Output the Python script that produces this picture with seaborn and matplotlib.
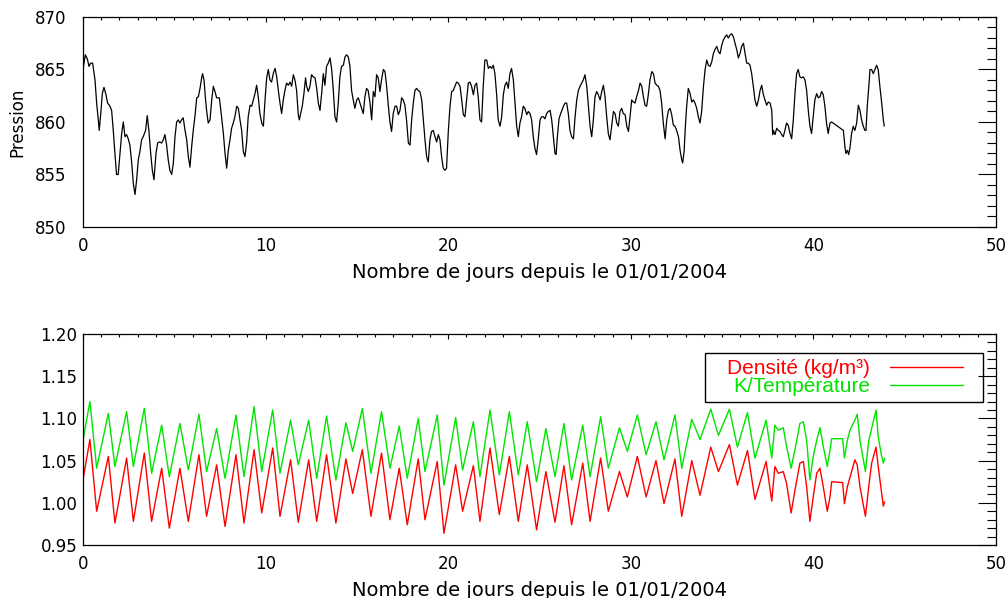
import numpy as np
import pandas as pd
import matplotlib
matplotlib.use("Agg")
import matplotlib.pyplot as plt
from matplotlib.ticker import MultipleLocator, FormatStrFormatter
from matplotlib.patches import Rectangle
import seaborn as sns

# ---- pressure (top panel) ----
press_days = [
    0.00, 0.13, 0.24, 0.33, 0.42, 0.53, 0.57, 0.66, 0.75, 0.84, 0.89, 0.99, 1.06, 1.15, 1.26, 1.35, 1.48, 1.57,
    1.66, 1.75, 1.84, 1.93, 2.03, 2.12, 2.21, 2.30, 2.39, 2.48, 2.57, 2.67, 2.76, 2.85, 2.94, 3.03, 3.12, 3.21,
    3.30, 3.43, 3.52, 3.61, 3.71, 3.80, 3.89, 4.00, 4.09, 4.18, 4.31, 4.40, 4.49, 4.58, 4.67, 4.76, 4.86, 4.95,
    5.04, 5.13, 5.22, 5.31, 5.40, 5.49, 5.59, 5.68, 5.77, 5.86, 5.95, 6.04, 6.13, 6.23, 6.32, 6.41, 6.50, 6.55,
    6.63, 6.70, 6.77, 6.86, 6.96, 7.05, 7.14, 7.23, 7.32, 7.47, 7.59, 7.69, 7.78, 7.87, 7.96, 8.05, 8.14, 8.23,
    8.32, 8.42, 8.51, 8.60, 8.69, 8.78, 8.87, 8.96, 9.05, 9.15, 9.24, 9.33, 9.42, 9.51, 9.60, 9.69, 9.79, 9.88,
    9.97, 10.06, 10.15, 10.24, 10.33, 10.42, 10.52, 10.61, 10.70, 10.79, 10.88, 10.97, 11.06, 11.15, 11.25,
    11.34, 11.43, 11.52, 11.61, 11.70, 11.79, 11.85, 11.92, 12.01, 12.10, 12.19, 12.25, 12.34, 12.43, 12.52,
    12.61, 12.71, 12.80, 12.89,
    12.98, 13.07, 13.16, 13.25, 13.34, 13.43, 13.53, 13.62, 13.71, 13.80, 13.89, 13.98, 14.07, 14.16, 14.26,
    14.35, 14.44, 14.53, 14.62, 14.71, 14.80, 14.89, 14.99, 15.08, 15.17, 15.26, 15.35, 15.44, 15.53, 15.62,
    15.72, 15.81, 15.90, 15.99, 16.08, 16.17, 16.26, 16.35, 16.45, 16.54, 16.63, 16.72, 16.81, 16.90, 16.99,
    17.09, 17.18, 17.27, 17.36, 17.45, 17.54, 17.63, 17.72, 17.82, 17.91, 18.00, 18.09, 18.18, 18.27, 18.36,
    18.45, 18.55, 18.64, 18.73, 18.82, 18.91, 19.00, 19.09, 19.18, 19.28, 19.37, 19.46, 19.55, 19.64, 19.73,
    19.82, 19.91, 20.01, 20.10, 20.19, 20.28, 20.37, 20.46, 20.55, 20.65, 20.74, 20.83, 20.92, 21.01, 21.10,
    21.19, 21.28, 21.38, 21.47, 21.56, 21.65, 21.74, 21.83, 21.92, 22.01, 22.11, 22.20, 22.29, 22.38, 22.47,
    22.56, 22.65, 22.74, 22.84, 22.93, 23.02, 23.11, 23.20, 23.29, 23.38, 23.47, 23.57, 23.66, 23.75, 23.84,
    23.93, 24.02, 24.11, 24.20, 24.30, 24.39, 24.48, 24.57, 24.66, 24.75, 24.84, 24.93, 25.03, 25.12, 25.21,
    25.30, 25.39, 25.48,
    25.58, 25.67, 25.76, 25.85, 25.91, 25.98, 26.07, 26.16, 26.23, 26.31, 26.40, 26.49, 26.58, 26.67, 26.76,
    26.86, 26.95, 27.04, 27.13, 27.22, 27.31, 27.40, 27.49, 27.59, 27.68, 27.77, 27.86, 27.95, 28.04, 28.13,
    28.22, 28.32, 28.41, 28.50, 28.59, 28.68, 28.77, 28.86, 28.95, 29.05, 29.14, 29.23, 29.32, 29.41, 29.50,
    29.59, 29.69, 29.78, 29.87, 29.96, 30.05, 30.14, 30.23, 30.32, 30.42, 30.51, 30.60, 30.69, 30.78, 30.87,
    30.96, 31.05, 31.15, 31.24, 31.33, 31.42, 31.51, 31.60, 31.69, 31.78, 31.88, 31.97, 32.06, 32.15, 32.24,
    32.33, 32.42, 32.51, 32.61, 32.70, 32.79, 32.84, 32.92, 32.99, 33.06, 33.15, 33.25, 33.34, 33.43, 33.52,
    33.61, 33.70, 33.79, 33.88, 33.98, 34.07, 34.16, 34.25, 34.34, 34.43, 34.52, 34.61, 34.71, 34.80, 34.89,
    34.98, 35.07, 35.16, 35.25, 35.34, 35.44, 35.53, 35.62, 35.71, 35.80, 35.89, 35.98, 36.07, 36.17, 36.26,
    36.35, 36.44, 36.53, 36.62, 36.71, 36.80, 36.90, 36.99, 37.08, 37.17, 37.26, 37.35, 37.44, 37.53, 37.63,
    37.72, 37.77, 37.81, 37.90, 37.99,
    38.08, 38.17, 38.26, 38.35, 38.44, 38.53, 38.62, 38.72, 38.81, 38.90, 38.99, 39.08, 39.17, 39.26, 39.35,
    39.45, 39.54, 39.63, 39.72, 39.81, 39.90, 39.99, 40.08, 40.18, 40.27, 40.36, 40.45, 40.54, 40.63, 40.72,
    40.81, 40.91, 41.00, 41.64, 41.73, 41.78, 41.86, 41.93, 42.00, 42.09, 42.18, 42.27, 42.37, 42.46, 42.55,
    42.64, 42.73, 42.82, 42.88, 42.95, 43.04, 43.10, 43.19, 43.28, 43.37, 43.46, 43.55, 43.64, 43.74, 43.83,
    43.88,
]
press_vals = [
    865.0, 866.4, 866.0, 865.3, 865.6, 865.6, 865.1, 864.0, 861.8, 860.2, 859.2, 861.1, 862.7, 863.3, 862.6, 861.8, 861.5, 861.1,
    859.2, 857.0, 855.0, 855.0, 857.0, 858.9, 860.0, 858.6, 858.8, 858.4, 857.8, 856.1, 854.1, 853.1, 854.5, 856.4, 857.2, 858.3,
    858.6, 859.2, 860.6, 859.2, 857.0, 855.4, 854.5, 857.0, 858.0, 858.1, 858.0, 858.3, 858.8, 857.8, 856.4, 855.4, 855.0, 856.1,
    858.6, 860.0, 860.2, 859.9, 860.2, 860.4, 859.2, 858.3, 856.7, 855.7, 857.6, 859.2, 860.5, 862.3, 862.4, 863.2, 864.2, 864.6,
    864.0, 862.4, 861.1, 859.9, 860.2, 862.1, 863.4, 862.9, 862.3, 862.3, 860.5, 858.9, 857.0, 855.6, 857.3, 858.3, 859.4, 859.9,
    860.5, 861.5, 861.3, 860.2, 859.2, 857.2, 856.7, 858.0, 860.5, 861.6, 861.5, 862.1, 862.7, 863.5, 862.4, 860.8, 859.9, 859.6,
    862.1, 864.2, 865.0, 864.0, 863.8, 864.6, 865.1, 864.3, 863.0, 861.8, 860.8, 862.1, 863.0, 863.7, 863.5,
    863.8, 863.4, 864.5, 864.0, 863.0, 860.7, 860.2, 860.8, 861.5, 862.7, 864.2, 863.4, 862.9, 863.4, 864.5,
    864.3, 864.2, 863.2, 861.8,
    861.1, 862.7, 864.6, 863.5, 865.3, 865.6, 866.1, 865.0, 863.0, 860.5, 860.0, 861.8, 864.3, 865.3, 865.4,
    866.2, 866.4, 866.2, 865.3, 863.0, 862.1, 861.3, 862.1, 862.3, 861.8, 861.3, 860.8, 862.4, 863.2, 863.0,
    861.8, 860.2, 862.9, 862.4, 864.5, 864.2, 862.9, 864.0, 865.0, 864.8, 863.4, 861.6, 860.0, 859.1, 860.8,
    861.5, 861.5, 860.7, 861.1, 862.3, 862.1, 861.6, 860.2, 858.0, 857.8, 860.2, 861.8, 863.0, 863.2, 863.0,
    862.9, 862.1, 860.2, 858.3, 856.7, 856.2, 858.3, 859.1, 859.2, 858.6, 858.1, 858.8, 858.3, 856.7, 855.6,
    855.4, 855.6, 859.2, 861.5, 862.9, 863.0, 863.4, 863.8, 863.7, 863.4, 862.1, 860.7, 860.5, 862.1, 863.7,
    863.8, 863.4, 862.6, 863.5, 863.7, 862.3, 860.2, 860.0, 863.4, 865.9, 865.9, 865.1, 865.3, 865.1, 865.4,
    864.6, 862.7, 860.2, 859.6, 860.5, 862.6, 863.5, 863.8, 863.2, 864.6, 865.1, 864.0, 861.8, 859.6, 858.6,
    859.9, 860.5, 861.5, 861.3, 860.7, 861.0, 860.8, 860.2, 858.6, 857.5, 856.9, 858.3, 860.2, 860.5, 860.5,
    860.3, 860.8, 861.0,
    861.1, 860.2, 858.6, 857.0, 856.9, 858.6, 860.3, 860.8, 861.1, 861.5, 861.8, 861.8, 860.8, 859.2, 858.6,
    858.4, 860.5, 862.1, 863.0, 863.4, 863.7, 864.0, 864.5, 863.4, 861.5, 859.6, 858.6, 860.2, 862.4, 862.9,
    862.6, 862.1, 862.9, 863.5, 862.4, 860.5, 858.9, 858.3, 859.6, 861.0, 860.8, 859.9, 859.6, 861.0, 861.3,
    860.8, 860.7, 859.6, 859.1, 860.5, 862.1, 861.9, 861.8, 862.4, 863.0, 863.7, 863.4, 862.4, 861.6, 861.5,
    862.6, 864.0, 864.8, 864.6, 863.7, 863.5, 863.4, 863.0, 861.8, 859.9, 858.4, 860.2, 861.1, 861.3, 860.7,
    859.7, 859.6, 859.2, 858.6, 857.3, 856.4, 856.1, 857.2, 859.6, 861.5, 863.2, 862.7, 861.9, 862.1, 861.8,
    861.3, 860.5, 859.9, 861.0, 863.4, 865.0, 865.9, 865.4, 865.3, 865.7, 866.5, 866.9, 867.2, 866.7, 866.5,
    867.3, 867.8, 868.1, 868.3, 868.0, 868.3, 868.4, 868.1, 867.5, 866.9, 866.1, 866.5, 867.2, 867.5, 866.5,
    865.6, 865.6, 865.4, 864.6, 863.4, 862.1, 861.5, 862.1, 863.0, 863.5, 862.6, 862.1, 861.6, 861.9, 861.8,
    861.1, 858.8, 859.2, 858.8, 859.4,
    859.2, 859.1, 858.8, 858.6, 859.2, 859.9, 859.7, 858.9, 858.4, 860.2, 862.7, 864.6, 865.0, 864.3, 864.2,
    864.3, 864.0, 863.0, 861.1, 859.6, 858.9, 860.5, 862.1, 862.7, 862.3, 862.4, 862.9, 862.6, 861.5, 859.9,
    858.9, 859.9, 860.0, 859.2, 857.6, 857.0, 857.3, 856.9, 857.5, 858.9, 859.6, 859.2, 859.9, 861.6, 861.1,
    860.2, 859.6, 859.2, 859.2, 861.5, 863.5, 865.0, 865.0, 864.6, 865.0, 865.4, 865.0, 863.4, 861.8, 860.2,
    859.6,
]

# ---- density and K/T (bottom panel), turning points ----
bot_days = [
    0.00, 0.38, 0.75, 1.39, 1.75, 2.39, 2.76, 3.36, 3.76, 4.31, 4.73, 5.31, 5.77, 6.35, 6.77, 7.32, 7.78, 8.38,
    8.82, 9.37, 9.79, 10.39, 10.79, 11.37, 11.79, 12.36, 12.80, 13.34, 13.85, 14.40, 14.77, 15.30, 15.77, 16.35,
    16.81, 17.32, 17.76, 18.36, 18.73, 19.40, 19.77, 20.41, 20.79, 21.38, 21.74, 22.29, 22.80, 23.35, 23.84,
    24.33, 24.84, 25.35, 25.85, 26.34, 26.76, 27.37, 27.77, 28.35, 28.77, 29.38, 29.81, 30.36, 30.84, 31.38,
    31.82, 32.42, 32.79, 33.34, 33.79, 34.38, 34.80, 35.40, 35.84, 36.39, 36.80, 37.41,
    37.72, 37.89, 38.08, 38.35, 38.53, 38.78, 38.99, 39.26, 39.45, 39.63, 39.81, 39.99, 40.18, 40.36, 40.54,
    40.76, 40.91, 41.00, 41.60, 41.70, 41.86, 42.00, 42.27, 42.40, 42.55, 42.85, 43.03, 43.19, 43.43, 43.55,
    43.74, 43.83, 43.90,
]
k_over_t = [
    1.074, 1.120, 1.041, 1.106, 1.043, 1.108, 1.043, 1.112, 1.035, 1.092, 1.031, 1.094, 1.039, 1.105, 1.037,
    1.088, 1.029, 1.104, 1.031, 1.114, 1.037, 1.110, 1.035, 1.098, 1.045, 1.098, 1.029, 1.103, 1.027, 1.095,
    1.061, 1.112, 1.035, 1.108, 1.041, 1.091, 1.029, 1.100, 1.037, 1.104, 1.021, 1.101, 1.039, 1.096, 1.031,
    1.110, 1.033, 1.108, 1.033, 1.096, 1.025, 1.088, 1.031, 1.094, 1.027, 1.092, 1.031, 1.102, 1.041, 1.089,
    1.061, 1.104, 1.057, 1.096, 1.051, 1.104, 1.041, 1.099, 1.075, 1.111, 1.080, 1.111, 1.066, 1.107, 1.053,
    1.098,
    1.053, 1.092, 1.086, 1.089, 1.067, 1.041, 1.063, 1.094, 1.096, 1.074, 1.027, 1.055, 1.074, 1.089, 1.067,
    1.043, 1.063, 1.076, 1.076, 1.053, 1.074, 1.086, 1.098, 1.105, 1.074, 1.037, 1.074, 1.088, 1.110, 1.078,
    1.055, 1.047, 1.053,
]
density = [
    1.027, 1.075, 0.990, 1.055, 0.976, 1.053, 0.978, 1.059, 0.978, 1.041, 0.970, 1.041, 0.978, 1.057, 0.984,
    1.045, 0.972, 1.057, 0.976, 1.063, 0.988, 1.065, 0.984, 1.051, 0.977, 1.051, 0.978, 1.057, 0.976, 1.052,
    1.011, 1.063, 0.984, 1.059, 0.980, 1.041, 0.974, 1.052, 0.980, 1.049, 0.964, 1.045, 0.990, 1.044, 0.978,
    1.065, 0.986, 1.055, 0.978, 1.045, 0.968, 1.037, 0.977, 1.044, 0.974, 1.047, 0.978, 1.053, 0.990, 1.037,
    1.007, 1.055, 1.007, 1.050, 0.999, 1.052, 0.984, 1.050, 1.009, 1.066, 1.037, 1.069, 1.021, 1.062, 1.004,
    1.049,
    1.002, 1.043, 1.035, 1.037, 1.023, 0.988, 1.015, 1.047, 1.049, 1.019, 0.978, 1.007, 1.035, 1.041, 1.019,
    0.990, 1.007, 1.025, 1.024, 0.999, 1.019, 1.030, 1.051, 1.045, 1.019, 0.984, 1.019, 1.047, 1.066, 1.043,
    1.011, 0.996, 1.001,
]

xlabel = "Nombre de jours depuis le 01/01/2004"
legend_labels = ["Densit\u00e9 (kg/m\u00b3)", "K/Temp\u00e9rature"]
RED = "#ff0000"
GREEN = "#00e400"


def style_axis(ax, ymajor, yminor, ypad):
    ax.set_xlim(0, 50)
    ax.xaxis.set_major_locator(MultipleLocator(10))
    ax.xaxis.set_minor_locator(MultipleLocator(1))
    ax.yaxis.set_major_locator(MultipleLocator(ymajor))
    ax.yaxis.set_minor_locator(MultipleLocator(yminor))
    ax.tick_params(axis="both", which="both", direction="in", top=True, right=True,
                   color="black", labelcolor="black", width=0.8, labelsize=12)
    ax.tick_params(axis="y", which="major", length=13, pad=ypad)
    ax.tick_params(axis="y", which="minor", length=6.5)
    ax.tick_params(axis="x", which="major", length=3.6, pad=7)
    ax.tick_params(axis="x", which="minor", length=1.8)
    for s in ax.spines.values():
        s.set_color("black")
        s.set_linewidth(0.9)
    ax.set_xlabel(xlabel, fontsize=14, labelpad=6, color="black")


def main():
    sns.set_style("white")
    plt.rcParams["font.family"] = ["DejaVu Sans"]
    plt.rcParams["text.color"] = "black"
    plt.rcParams["axes.labelcolor"] = "black"

    fig = plt.figure(figsize=(10.08, 5.98), dpi=100)
    ax1 = fig.add_axes([0.0823, 0.6204, 0.9058, 0.3512])
    ax2 = fig.add_axes([0.0823, 0.0886, 0.9058, 0.3528])

    df_p = pd.DataFrame({"day": press_days, "pression": press_vals})
    sns.lineplot(data=df_p, x="day", y="pression", ax=ax1, color="black", lw=0.9,
                 sort=False, estimator=None)
    ax1.set_ylim(850, 870)
    style_axis(ax1, 5, 1, 12)
    ax1.set_ylabel("Pression", fontsize=12, color="black")
    ax1.yaxis.set_label_coords(-0.062, 0.5)

    df_b = pd.DataFrame({"day": bot_days, "dens": density, "kt": k_over_t})
    sns.lineplot(data=df_b, x="day", y="dens", ax=ax2, color=RED, lw=1.0,
                 sort=False, estimator=None, label=legend_labels[0])
    sns.lineplot(data=df_b, x="day", y="kt", ax=ax2, color=GREEN, lw=1.0,
                 sort=False, estimator=None, label=legend_labels[1])
    ax2.set_ylim(0.95, 1.20)
    style_axis(ax2, 0.05, 0.01, 4)
    ax2.yaxis.set_major_formatter(FormatStrFormatter("%.2f"))
    ax2.set_ylabel("")

    # legend: text first, line sample after, inside a square black box
    handles, labels = ax2.get_legend_handles_labels()
    leg = ax2.legend(handles, labels, loc="upper left", markerfirst=False,
                     bbox_to_anchor=(727 / 1008, 1 - 359 / 598), bbox_transform=fig.transFigure,
                     frameon=False, borderpad=0, borderaxespad=0, handlelength=3.5,
                     handletextpad=0.95, labelspacing=-0.05, labelcolor="linecolor",
                     prop={"family": "Liberation Sans", "size": 15})
    for line in leg.get_lines():
        line.set_linewidth(1.0)
    fig.patches.append(Rectangle((705 / 1008, 1 - 402 / 598), 278 / 1008, 49 / 598,
                                 transform=fig.transFigure, fill=False,
                                 edgecolor="black", linewidth=1.0))

    fig.savefig("out.png", dpi=100)


if __name__ == "__main__":
    main()
